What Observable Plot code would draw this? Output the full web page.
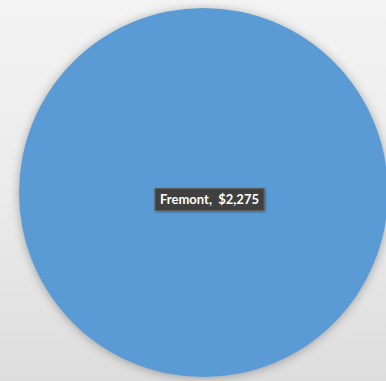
<!DOCTYPE html>
<html>
<head>
<meta charset="utf-8">
<script src="https://cdn.jsdelivr.net/npm/d3@7"></script>
<script src="https://cdn.jsdelivr.net/npm/@observablehq/plot@0.6"></script>
<style>
  html, body { margin: 0; padding: 0; }
  body { width: 386px; height: 381px; overflow: hidden;
         background: linear-gradient(to bottom, #f3f3f3 0%, #ebebeb 50%, #dddddd 100%); }
  #chart svg { display: block; background: transparent; }
  .pie-slice circle { filter: drop-shadow(0px 1px 5px rgba(0,0,0,0.30)); }
  .pie-label rect { filter: drop-shadow(1px 1px 1.5px rgba(0,0,0,0.35)); }
</style>
</head>
<body>
<div id="chart"></div>
<script>
const categories = ["Fremont"];
const values = [2275];

const data = categories.map((c, i) => ({category: c, value: values[i]}));
const total = d3.sum(values);
const fmt = d3.format(",");
const labelText = d => `${d.category},  $${fmt(d.value)}`;

const W = 386, H = 381;
const margins = {marginLeft: 20, marginRight: 0, marginTop: 3, marginBottom: 0};
const labelDx = 6, labelDy = 7;
const fontSize = 13;
const fontFamily = "Lato, 'Open Sans', sans-serif";

function boxedLabel(index, scales, values, dimensions, context, next) {
  const g = next(index, scales, values, dimensions, context);
  const cnv = document.createElement("canvas").getContext("2d");
  cnv.font = `bold ${fontSize}px ${fontFamily}`;
  // the group is already translated by dx/dy, so center on the frame middle
  const cx = dimensions.marginLeft + (dimensions.width - dimensions.marginLeft - dimensions.marginRight) / 2;
  const cy = dimensions.marginTop + (dimensions.height - dimensions.marginTop - dimensions.marginBottom) / 2;
  for (const i of index) {
    const w = cnv.measureText(labelText(data[i])).width + 10;
    const h = 22;
    const r = document.createElementNS("http://www.w3.org/2000/svg", "rect");
    r.setAttribute("x", cx - w / 2);
    r.setAttribute("y", cy - h / 2);
    r.setAttribute("width", w);
    r.setAttribute("height", h);
    r.setAttribute("fill", "#404040");
    r.setAttribute("stroke", "#5e5e5e");
    r.setAttribute("stroke-width", 1);
    g.insertBefore(r, g.firstChild);
  }
  g.setAttribute("class", (g.getAttribute("class") || "") + " pie-label");
  return g;
}

const plot = Plot.plot({
  width: W,
  height: H,
  ...margins,
  style: {background: "transparent", overflow: "visible"},
  r: {type: "linear", domain: [0, total], range: [0, 184.5]},
  marks: [
    Plot.dot(data, {
      r: () => total,
      fill: "#5B9BD5",
      stroke: null,
      frameAnchor: "middle",
      className: "pie-slice"
    }),
    Plot.text(data, {
      text: labelText,
      frameAnchor: "middle",
      dx: labelDx,
      dy: labelDy,
      fill: "white",
      fontWeight: "bold",
      fontSize: fontSize,
      fontFamily: fontFamily,
      render: boxedLabel
    })
  ]
});
document.getElementById("chart").appendChild(plot);
</script>
</body>
</html>
